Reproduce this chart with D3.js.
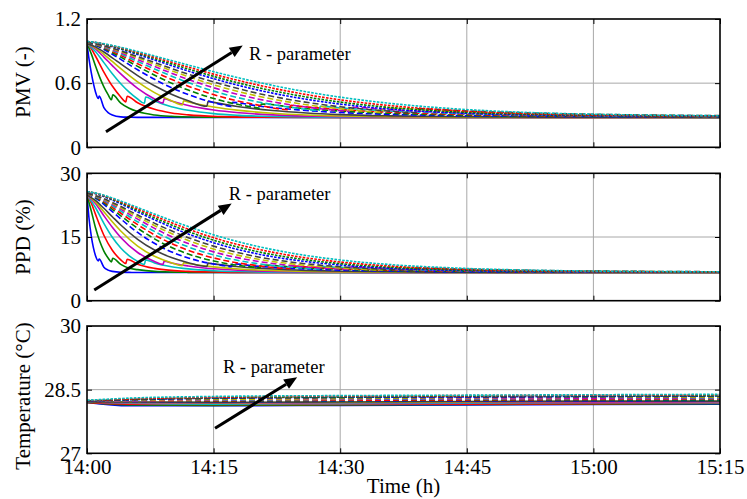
<!DOCTYPE html>
<html>
<head>
<meta charset="utf-8">
<script src="https://cdn.jsdelivr.net/npm/d3@7"></script>
<style>
  body { margin: 0; background: #fff; }
  svg text { font-family: "Liberation Serif", "Times New Roman", serif; fill: #000; }
</style>
</head>
<body>
<svg id="chart" width="747" height="499"></svg>
<script>
// ---- time axis (minutes after 14:00) ----
const timeTicks = [0, 15, 30, 45, 60, 75];
const timeTickLabels = ["14:00", "14:15", "14:30", "14:45", "15:00", "15:15"];

// ---- value axes ----
const pmvTicks = [0, 0.6, 1.2];
const pmvTickLabels = ["0", "0.6", "1.2"];
const ppdTicks = [0, 15, 30];
const ppdTickLabels = ["0", "15", "30"];
const tempTicks = [27, 28.5, 30];
const tempTickLabels = ["27", "28.5", "30"];

// ---- one entry per R value: colour and line style ----
const lineColors = [
  "#0000ff", "#008000", "#ff0000", "#00bfbf", "#bf00bf", "#bfbf00", "#404040",
  "#0000ff", "#008000", "#ff0000", "#00bfbf", "#bf00bf", "#bfbf00", "#404040",
  "#0000ff", "#008000", "#ff0000", "#00bfbf"
];
const lineStyles = [
  "solid", "solid", "solid", "solid", "solid", "solid", "solid",
  "dashed", "dashed", "dashed", "dashed", "dashed", "dashed", "dashed",
  "dotted", "dotted", "dotted", "dotted"
];

// ---- PMV (-) : [minute, value] ----
const pmvCurves = [
  [[0,.97],[.25,.82],[.5,.70],[.75,.60],[1,.52],[1.34,.456],[1.45,.48],[2,.371],[2.5,.325],[3,.302],[4,.285],[5,.282],[6,.28],[20,.28],[40,.28],[75,.28]],
  [[0,.97],[.5,.876],[1,.762],[1.5,.656],[2,.565],[2.5,.492],[2.9,.445],[3.05,.49],[4,.413],[5,.365],[6,.334],[8,.302],[10,.289],[12,.284],[16,.281],[40,.28],[75,.28]],
  [[0,.97],[.5,.924],[1,.854],[2,.704],[3,.573],[4,.471],[4.6,.425],[4.75,.478],[6,.416],[8,.355],[10,.321],[12,.303],[16,.287],[20,.281],[40,.28],[75,.28]],
  [[0,.97],[1,.896],[2,.792],[3,.688],[4,.595],[5,.516],[6,.452],[6.8,.412],[6.95,.47],[8,.432],[10,.380],[12,.346],[15,.315],[18,.299],[22,.288],[26,.283],[30,.281],[75,.28]],
  [[0,.97],[1,.920],[2,.844],[3,.764],[4,.686],[6,.551],[8,.451],[9,.413],[9.15,.455],[10,.433],[12,.391],[15,.349],[18,.323],[22,.303],[26,.292],[30,.286],[36,.283],[44,.281],[75,.28]],
  [[0,.97],[1,.930],[2,.870],[3,.803],[4,.736],[6,.612],[8,.511],[10,.435],[11.3,.396],[11.45,.435],[12,.424],[15,.377],[18,.345],[22,.318],[26,.302],[30,.293],[36,.286],[44,.282],[54,.28],[75,.28]],
  [[0,.97],[1,.939],[2,.891],[3,.837],[4,.780],[6,.671],[8,.575],[10,.497],[12,.435],[14.2,.384],[14.35,.43],[15,.420],[18,.380],[22,.344],[26,.321],[30,.306],[36,.294],[44,.286],[54,.282],[64,.281],[75,.28]],
  [[0,.98],[1.5,.936],[3,.870],[6,.725],[9,.595],[12,.493],[16,.399],[17.1,.381],[17.25,.42],[20,.389],[25,.350],[30,.325],[36,.308],[44,.296],[54,.289],[64,.287],[75,.286]],
  [[0,.98],[1.5,.942],[3,.885],[6,.757],[9,.636],[12,.535],[16,.435],[20,.371],[20.5,.365],[20.65,.405],[25,.368],[30,.339],[36,.318],[44,.302],[54,.292],[64,.288],[75,.286]],
  [[0,.98],[1.5,.947],[3,.897],[6,.782],[9,.670],[12,.572],[16,.470],[20,.399],[24,.352],[24.15,.392],[25,.385],[30,.353],[36,.328],[44,.309],[54,.296],[64,.290],[75,.287]],
  [[0,.98],[1.5,.951],[3,.907],[6,.803],[9,.699],[12,.605],[16,.503],[20,.428],[25,.365],[27.5,.344],[27.65,.384],[30,.369],[36,.340],[44,.317],[54,.301],[64,.293],[75,.289]],
  [[0,.98],[1.5,.955],[3,.915],[6,.821],[9,.724],[12,.635],[16,.534],[20,.456],[25,.387],[30,.343],[31,.337],[31.15,.375],[36,.351],[44,.325],[54,.306],[64,.296],[75,.291]],
  [[0,.98],[1.5,.957],[3,.921],[6,.836],[9,.746],[12,.661],[16,.562],[20,.483],[25,.410],[30,.361],[35,.329],[35.15,.367],[44,.334],[54,.312],[64,.300],[75,.293]],
  [[0,.98],[1.5,.959],[3,.927],[6,.848],[9,.765],[12,.684],[16,.589],[20,.509],[25,.433],[30,.379],[36,.338],[39,.324],[39.15,.36],[44,.343],[54,.318],[64,.304],[75,.296]],
  [[0,.99],[1.5,.971],[3,.941],[6,.868],[9,.790],[12,.713],[16,.620],[20,.540],[25,.462],[30,.404],[36,.357],[44,.321],[54,.301],[64,.294],[75,.291]],
  [[0,.99],[1.5,.973],[3,.945],[6,.878],[9,.805],[12,.732],[16,.642],[20,.563],[25,.484],[30,.423],[36,.372],[44,.331],[54,.306],[64,.296],[75,.292]],
  [[0,.99],[1.5,.974],[3,.949],[6,.887],[9,.819],[12,.750],[16,.663],[20,.587],[25,.507],[30,.444],[36,.389],[44,.343],[54,.312],[64,.299],[75,.293]],
  [[0,.99],[1.5,.976],[3,.953],[6,.896],[9,.833],[12,.769],[16,.687],[20,.613],[25,.533],[30,.469],[36,.410],[44,.358],[54,.321],[64,.304],[75,.295]]
];

// ---- PPD (%) : [minute, value] ----
const ppdCurves = [
  [[0,24.87],[.25,19.18],[.5,15.30],[.75,12.54],[1,10.66],[1.34,9.38],[1.45,9.81],[2,7.87],[2.5,7.20],[3,6.90],[4,6.69],[5,6.66],[6,6.63],[20,6.63],[40,6.63],[75,6.63]],
  [[0,24.87],[.5,21.19],[1,17.24],[1.5,14.04],[2,11.69],[2.5,10.05],[2.9,9.14],[3.05,10.01],[4,8.55],[5,7.62],[6,7.31],[8,6.90],[10,6.74],[12,6.68],[16,6.64],[40,6.63],[75,6.63]],
  [[0,24.87],[.5,23.04],[1,20.38],[2,15.42],[3,11.88],[4,9.63],[4.6,8.77],[4.75,9.77],[6,8.61],[8,7.62],[10,7.14],[12,6.91],[16,6.72],[20,6.64],[40,6.63],[75,6.63]],
  [[0,24.87],[1,21.95],[2,18.23],[3,14.95],[4,12.42],[5,10.57],[6,9.27],[6.8,8.54],[6.95,9.61],[8,8.90],[10,8.01],[12,7.49],[15,7.07],[18,6.86],[22,6.73],[26,6.67],[30,6.64],[75,6.63]],
  [[0,24.87],[1,22.88],[2,20.02],[3,17.30],[4,14.89],[6,11.35],[8,9.25],[9,8.55],[9.15,9.33],[10,8.88],[12,8.19],[15,7.53],[18,7.17],[22,6.91],[26,6.78],[30,6.70],[36,6.67],[44,6.64],[75,6.63]],
  [[0,24.87],[1,23.27],[2,20.97],[3,18.59],[4,16.41],[6,12.85],[8,10.46],[10,8.95],[11.3,8.27],[11.45,8.95],[12,8.75],[15,7.96],[18,7.48],[22,7.10],[26,6.90],[30,6.79],[36,6.70],[44,6.66],[54,6.63],[75,6.63]],
  [[0,24.87],[1,23.62],[2,21.76],[3,19.78],[4,17.83],[6,14.46],[8,11.93],[10,10.16],[12,8.95],[14.2,8.07],[14.35,8.86],[15,8.68],[18,8.01],[22,7.46],[26,7.14],[30,6.95],[36,6.80],[44,6.70],[54,6.66],[64,6.64],[75,6.63]],
  [[0,25.28],[1.5,23.50],[3,20.97],[6,16.07],[9,12.42],[12,10.07],[16,8.31],[17.1,8.03],[17.25,8.68],[20,8.15],[25,7.55],[30,7.20],[36,6.97],[44,6.82],[54,6.74],[64,6.72],[75,6.70]],
  [[0,25.28],[1.5,23.74],[3,21.53],[6,17.07],[9,13.48],[12,10.99],[16,8.95],[20,7.87],[20.5,7.78],[20.65,8.42],[25,7.82],[30,7.39],[36,7.10],[44,6.90],[54,6.78],[64,6.73],[75,6.70]],
  [[0,25.28],[1.5,23.94],[3,21.99],[6,17.90],[9,14.43],[12,11.86],[16,9.61],[20,8.31],[24,7.58],[24.15,8.20],[25,8.09],[30,7.59],[36,7.23],[44,6.99],[54,6.82],[64,6.75],[75,6.72]],
  [[0,25.28],[1.5,24.10],[3,22.37],[6,18.59],[9,15.27],[12,12.67],[16,10.29],[20,8.79],[25,7.78],[27.5,7.46],[27.65,8.07],[30,7.84],[36,7.40],[44,7.09],[54,6.88],[64,6.79],[75,6.74]],
  [[0,25.28],[1.5,24.26],[3,22.69],[6,19.22],[9,16.03],[12,13.46],[16,10.97],[20,9.34],[25,8.12],[30,7.45],[31,7.36],[31.15,7.93],[36,7.57],[44,7.20],[54,6.95],[64,6.82],[75,6.76]],
  [[0,25.28],[1.5,24.34],[3,22.92],[6,19.74],[9,16.72],[12,14.18],[16,11.62],[20,9.87],[25,8.50],[30,7.72],[35,7.25],[35.15,7.81],[44,7.31],[54,7.03],[64,6.87],[75,6.79]],
  [[0,25.28],[1.5,24.42],[3,23.15],[6,20.17],[9,17.33],[12,14.84],[16,12.28],[20,10.42],[25,8.91],[30,7.99],[36,7.37],[39,7.18],[39.15,7.70],[44,7.45],[54,7.10],[64,6.92],[75,6.82]],
  [[0,25.70],[1.5,24.91],[3,23.70],[6,20.90],[9,18.16],[12,15.70],[16,13.06],[20,11.10],[25,9.46],[30,8.40],[36,7.66],[44,7.14],[54,6.88],[64,6.80],[75,6.76]],
  [[0,25.70],[1.5,25.00],[3,23.86],[6,21.27],[9,18.66],[12,16.28],[16,13.65],[20,11.64],[25,9.89],[30,8.73],[36,7.88],[44,7.27],[54,6.95],[64,6.82],[75,6.78]],
  [[0,25.70],[1.5,25.04],[3,24.02],[6,21.61],[9,19.15],[12,16.85],[16,14.23],[20,12.23],[25,10.37],[30,9.12],[36,8.15],[44,7.45],[54,7.03],[64,6.86],[75,6.79]],
  [[0,25.70],[1.5,25.12],[3,24.18],[6,21.95],[9,19.64],[12,17.47],[16,14.92],[20,12.88],[25,10.95],[30,9.59],[36,8.50],[44,7.67],[54,7.14],[64,6.92],[75,6.81]]
];

// ---- indoor temperature (°C) ----
const tempMinutes = [0, 5, 15, 30, 45, 60, 75];
const tempCurves = [
  [28.20, 28.12, 28.12, 28.13, 28.14, 28.15, 28.16],
  [28.20, 28.14, 28.13, 28.14, 28.15, 28.16, 28.17],
  [28.20, 28.16, 28.15, 28.15, 28.16, 28.17, 28.18],
  [28.21, 28.18, 28.16, 28.17, 28.18, 28.19, 28.19],
  [28.21, 28.19, 28.18, 28.19, 28.20, 28.20, 28.21],
  [28.21, 28.20, 28.19, 28.20, 28.21, 28.22, 28.22],
  [28.21, 28.21, 28.20, 28.21, 28.22, 28.23, 28.23],
  [28.22, 28.22, 28.22, 28.23, 28.24, 28.24, 28.25],
  [28.22, 28.23, 28.23, 28.24, 28.25, 28.26, 28.26],
  [28.22, 28.23, 28.24, 28.25, 28.26, 28.27, 28.28],
  [28.22, 28.24, 28.25, 28.27, 28.28, 28.29, 28.29],
  [28.23, 28.24, 28.26, 28.28, 28.29, 28.30, 28.31],
  [28.23, 28.25, 28.27, 28.29, 28.31, 28.32, 28.32],
  [28.23, 28.26, 28.29, 28.31, 28.32, 28.33, 28.34],
  [28.23, 28.26, 28.30, 28.32, 28.33, 28.34, 28.35],
  [28.24, 28.27, 28.31, 28.33, 28.35, 28.36, 28.36],
  [28.24, 28.28, 28.32, 28.35, 28.36, 28.37, 28.38],
  [28.25, 28.30, 28.34, 28.36, 28.37, 28.38, 28.39]
];

// ---- "R - parameter" arrows: [minute, value] start and tip, label anchor ----
const pmvArrow = [[2.25, 0.146], [18.45, 0.952]];
const pmvArrowLabel = [19.2, 0.817];
const ppdArrow = [[0.86, 2.5], [17.14, 22.9]];
const ppdArrowLabel = [16.8, 23.7];
const tempArrow = [[15.17, 27.59], [24.9, 28.79]];
const tempArrowLabel = [16.1, 28.9];
const arrowText = "R - parameter";

// ---- layout ----
const svg = d3.select("#chart");
const plotLeft = 87, plotRight = 720;
const panels = [
  { top: 19, bottom: 147.3, domain: [0, 1.2], ticks: pmvTicks, labels: pmvTickLabels, title: "PMV (-)",
    titleY: 82, curves: pmvCurves, arrow: pmvArrow, arrowLabel: pmvArrowLabel, showTime: false },
  { top: 173.3, bottom: 300.7, domain: [0, 30], ticks: ppdTicks, labels: ppdTickLabels, title: "PPD (%)",
    titleY: 237, curves: ppdCurves, arrow: ppdArrow, arrowLabel: ppdArrowLabel, showTime: false },
  { top: 326, bottom: 453.3, domain: [27, 30], ticks: tempTicks, labels: tempTickLabels, title: "Temperature (\u00B0C)",
    titleY: 396, curves: tempCurves.map(vals => vals.map((v, i) => [tempMinutes[i], v])),
    arrow: tempArrow, arrowLabel: tempArrowLabel, showTime: true }
];

const x = d3.scaleLinear().domain([0, 75]).range([plotLeft, plotRight]);

const dashFor = { solid: null, dashed: "6,3", dotted: "2.6,1.3" };

panels.forEach((p, pi) => {
  const y = d3.scaleLinear().domain(p.domain).range([p.bottom, p.top]);
  const g = svg.append("g");

  // grid (interior ticks only)
  const gridColor = "#a8a8a8";
  g.selectAll(".vgrid").data(timeTicks.slice(1, -1)).join("line")
    .attr("x1", d => x(d)).attr("x2", d => x(d))
    .attr("y1", p.top).attr("y2", p.bottom)
    .attr("stroke", gridColor).attr("stroke-width", 1);
  g.selectAll(".hgrid").data(p.ticks.slice(1, -1)).join("line")
    .attr("x1", plotLeft).attr("x2", plotRight)
    .attr("y1", d => y(d)).attr("y2", d => y(d))
    .attr("stroke", gridColor).attr("stroke-width", 1);

  // series
  const clipId = "clip" + pi;
  svg.append("clipPath").attr("id", clipId).append("rect")
    .attr("x", plotLeft).attr("y", p.top)
    .attr("width", plotRight - plotLeft).attr("height", p.bottom - p.top);
  const line = d3.line().x(d => x(d[0])).y(d => y(d[1])).curve(d3.curveMonotoneX);
  g.append("g").attr("clip-path", `url(#${clipId})`)
    .selectAll("path").data(p.curves).join("path")
    .attr("d", line)
    .attr("fill", "none")
    .attr("stroke", (d, i) => lineColors[i])
    .attr("stroke-width", 1.6)
    .attr("stroke-dasharray", (d, i) => dashFor[lineStyles[i]]);

  // axes (ticks pointing inward)
  const tickLen = 5;
  const axB = d3.axisBottom(x).tickValues(timeTicks).tickSize(-tickLen).tickPadding(6)
    .tickFormat((d, i) => p.showTime ? timeTickLabels[i] : "");
  const axT = d3.axisTop(x).tickValues(timeTicks).tickSize(-tickLen).tickFormat("");
  const axL = d3.axisLeft(y).tickValues(p.ticks).tickSize(-tickLen).tickPadding(6)
    .tickFormat((d, i) => p.labels[i]);
  const axR = d3.axisRight(y).tickValues(p.ticks).tickSize(-tickLen).tickFormat("");

  const axes = [
    g.append("g").attr("transform", `translate(0,${p.bottom})`).call(axB),
    g.append("g").attr("transform", `translate(0,${p.top})`).call(axT),
    g.append("g").attr("transform", `translate(${plotLeft},0)`).call(axL),
    g.append("g").attr("transform", `translate(${plotRight},0)`).call(axR)
  ];
  axes.forEach(a => {
    a.select(".domain").remove();
    a.selectAll(".tick line").attr("stroke", "#000").attr("stroke-width", 1);
    a.selectAll(".tick text").attr("font-size", 21)
      .attr("font-family", "Liberation Serif, Times New Roman, serif").attr("fill", "#000");
  });

  // frame
  g.append("rect").attr("x", plotLeft).attr("y", p.top)
    .attr("width", plotRight - plotLeft).attr("height", p.bottom - p.top)
    .attr("fill", "none").attr("stroke", "#000").attr("stroke-width", 1.6);

  // y title
  g.append("text")
    .attr("transform", `translate(30,${p.titleY}) rotate(-90)`)
    .attr("text-anchor", "middle").attr("font-size", 21)
    .text(p.title);

  // annotation arrow
  const [a0, a1] = p.arrow;
  const x0 = x(a0[0]), y0 = y(a0[1]), x1 = x(a1[0]), y1 = y(a1[1]);
  const ang = Math.atan2(y1 - y0, x1 - x0);
  const headLen = 13, headHalf = 5.5;
  const bx = x1 - headLen * Math.cos(ang), by = y1 - headLen * Math.sin(ang);
  g.append("line").attr("x1", x0).attr("y1", y0).attr("x2", bx).attr("y2", by)
    .attr("stroke", "#000").attr("stroke-width", 3);
  g.append("path")
    .attr("d", `M${x1},${y1}L${bx + headHalf * Math.sin(ang)},${by - headHalf * Math.cos(ang)}` +
               `L${bx - headHalf * Math.sin(ang)},${by + headHalf * Math.cos(ang)}Z`)
    .attr("fill", "#000");
  g.append("text")
    .attr("x", x(p.arrowLabel[0])).attr("y", y(p.arrowLabel[1]))
    .attr("font-size", 18.5).text(arrowText);
});

// x title
svg.append("text").attr("x", (plotLeft + plotRight) / 2).attr("y", 493)
  .attr("text-anchor", "middle").attr("font-size", 21).text("Time (h)");
</script>
</body>
</html>
